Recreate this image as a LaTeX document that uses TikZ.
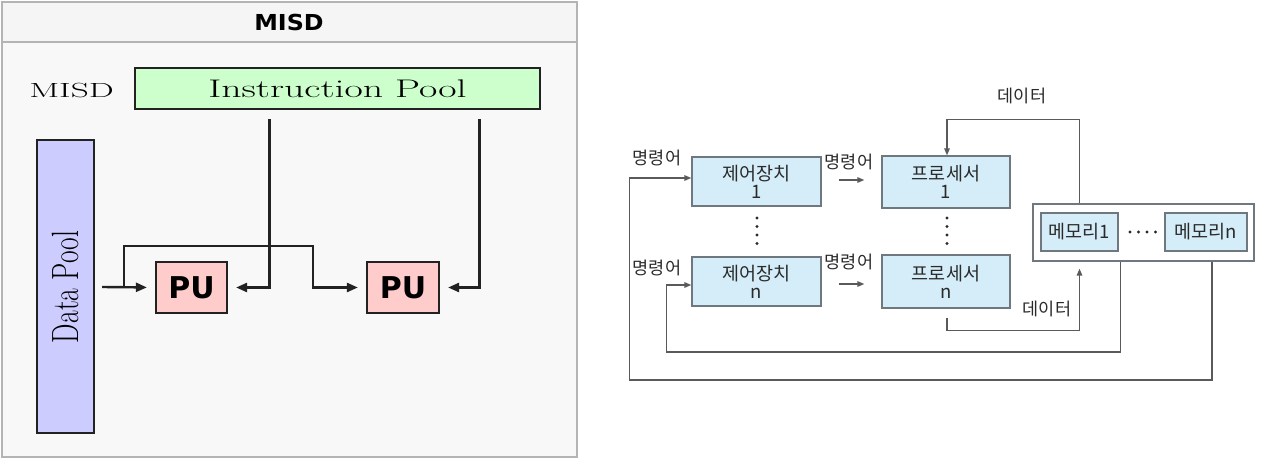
\documentclass[tikz,border=0pt]{standalone}
\usepackage{fontspec}
\newfontfamily\kr{Noto Sans CJK KR}
\newfontfamily\djv{DejaVu Sans}
\usetikzlibrary{arrows.meta,calc}
\definecolor{panelbg}{HTML}{F8F8F8}
\definecolor{panelline}{HTML}{B4B4B4}
\definecolor{ipgreen}{HTML}{CCFFCC}
\definecolor{dpblue}{HTML}{CCCCFF}
\definecolor{pupink}{HTML}{FFCCCC}
\definecolor{darkline}{HTML}{222222}
\definecolor{rfill}{HTML}{D5EDF8}
\definecolor{rdraw}{HTML}{6E787E}
\definecolor{rline}{HTML}{5A5A5A}
\definecolor{rtext}{HTML}{2A2A2A}
\tikzset{
  lbox/.style={draw=darkline, line width=2.2pt, inner sep=0pt},
  lconn/.style={draw=darkline, line width=2.4pt, -{Triangle[length=11pt,width=9pt]}},
  rbox/.style={draw=rdraw, line width=1.3pt, fill=rfill, inner sep=0pt, align=center,
    text=rtext, font=\kr\fontsize{18.5}{19}\selectfont},
  rconn/.style={draw=rline, line width=1.4pt, -{Triangle[length=7pt,width=5.5pt]}},
  rlabel/.style={inner sep=0pt, text=rtext, font=\kr\fontsize{17.5}{18}\selectfont},
  rdot/.style={fill=rtext}
}
\begin{document}
\begin{tikzpicture}[x=1pt,y=-1pt]
\useasboundingbox (0,0) rectangle (1280,460);
\fill[white] (0,0) rectangle (1280,460);
% ---------------- left panel ----------------
\draw[panelline, line width=1.6pt, fill=panelbg] (2,2) rectangle (577,457);
\fill[white!96!black] (2.8,2.8) rectangle (576.2,42);
\draw[panelline, line width=1.6pt] (2,42) -- (577,42);
\node (title) at (289,22) {\djv\bfseries\fontsize{22}{22}\selectfont\scalebox{1.08}[1]{MISD}};
\node (misd) at (71.5,90) {\fontsize{20.5}{20}\selectfont\scalebox{1.72}[1]{MISD}};
\node[lbox, fill=ipgreen, minimum width=405pt, minimum height=41pt] (ip) at (337.5,88.5)
  {\fontsize{25.5}{25}\selectfont\scalebox{1.56}[1]{Instruction Pool}};
\node[lbox, fill=dpblue, minimum width=57pt, minimum height=293pt] (dp) at (65.5,286.5) {};
\node[rotate=90, inner sep=0pt] (dptext) at (65,287)
  {\fontsize{27.5}{27}\selectfont\scalebox{1}[1.38]{Data Pool}};
\node[lbox, fill=pupink, minimum width=71pt, minimum height=51pt] (pu1) at (191.5,287.5)
  {\djv\bfseries\fontsize{30}{30}\selectfont PU};
\node[lbox, fill=pupink, minimum width=72pt, minimum height=51pt] (pu2) at (403,287.5)
  {\djv\bfseries\fontsize{30}{30}\selectfont PU};
% data flow
\draw[lconn, shorten >=8pt] ($(dp.east)+(7,0.5)$) -- (pu1.west);
\draw[lconn, shorten >=8pt] ($(dp.east)+(29,0.5)$) |- ($(pu1.north)+(0,-15)$) -| ($(pu2.west)+(-53,0)$) -- (pu2.west);
% instruction flow
\draw[lconn, shorten >=8pt] ($(ip.south)+(-68,9)$) |- (pu1.east);
\draw[lconn, shorten >=8pt] ($(ip.south)+(142,9)$) |- (pu2.east);
% ---------------- right panel ----------------
\node[rbox, minimum width=129pt, minimum height=49pt] (c1) at (756.5,181.5) {제어장치\\[-1pt]1};
\node[rbox, minimum width=129pt, minimum height=49pt] (cn) at (756.5,281.5) {제어장치\\[-1pt]n};
\node[rbox, minimum width=128pt, minimum height=52pt] (p1) at (946,182) {프로세서\\[-1pt]1};
\node[rbox, minimum width=128pt, minimum height=53pt] (pn) at (946,281.5) {프로세서\\[-1pt]n};
\node[draw=rdraw, line width=1.3pt, fill=white, minimum width=221pt, minimum height=57pt, inner sep=0pt] (mem) at (1143.5,232.5) {};
\node[rbox, minimum width=77pt, minimum height=38pt] (m1) at (1079.5,232) {메모리1};
\node[rbox, minimum width=82pt, minimum height=38pt] (mn) at (1206,232) {메모리n};
% dots
\foreach \yy in {218,226.5,235,243.5} {
  \fill[rdot] (757,\yy) circle (1.7);
  \fill[rdot] (947,\yy) circle (1.7);
}
\foreach \xx in {1130,1138.5,1147,1155.5} {
  \fill[rdot] (\xx,232) circle (1.6);
}
% labels
\node[rlabel] (l1) at (657,158) {명령어};
\node[rlabel] (l2) at (657,268) {명령어};
\node[rlabel] (l3) at (849,162) {명령어};
\node[rlabel] (l4) at (849,262) {명령어};
\node[rlabel] (d1) at (1022,96) {데이터};
\node[rlabel] (d2) at (1047,309) {데이터};
% short arrows control -> processor
\draw[rconn] ($(c1.east)+(17,-1.5)$) -- ($(p1.west)+(-17,-2)$);
\draw[rconn] ($(cn.east)+(17,2.5)$) -- ($(pn.west)+(-17,2.5)$);
% memory -> processor 1 (data)
\draw[rconn] (m1.center |- mem.north) -- ++(0,-84) -| ($(p1.north)+(1,0)$);
% processor n -> memory (data)
\draw[rconn] ($(pn.south)+(1,9)$) |- ($(m1.center |- mem.south)+(0,69)$) -- ($(m1.center |- mem.south)+(0,7)$);
% memory 1 -> control n
\draw[rconn] ($(m1.east |- mem.south)+(2,0)$) |- ($(cn.west)+(-25,70.5)$) |- ($(cn.west)+(0,3.5)$);
% memory n -> control 1
\draw[rconn] ($(mn.center |- mem.south)+(6,0)$) |- ($(c1.west)+(-62,198.5)$) |- ($(c1.west)+(0,-3.5)$);
\end{tikzpicture}
\end{document}
